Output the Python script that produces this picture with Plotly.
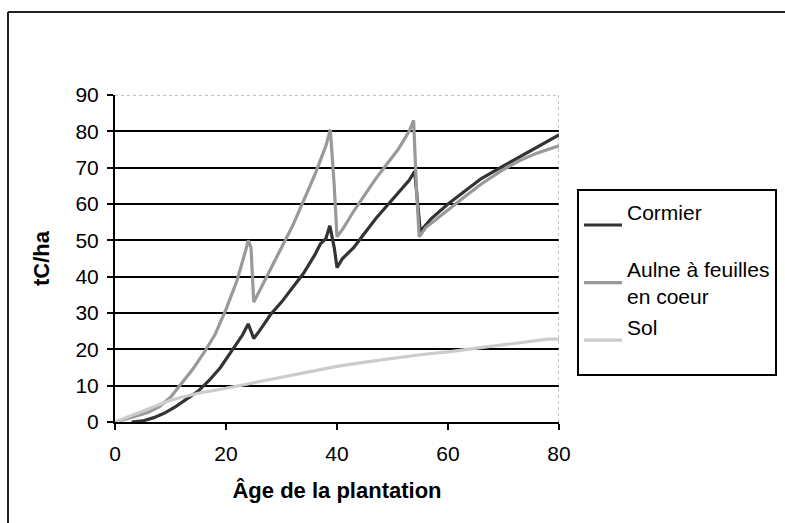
import plotly.graph_objects as go

# ---- data ----
cormier_age = [3, 5, 7, 9, 11, 13, 15, 17, 19, 21, 23, 24, 25, 26, 28, 30, 32, 34, 36, 37, 38, 38.7, 39.5, 40,
               41, 43, 45, 47, 49, 51, 53, 54, 54.5, 55, 57, 60, 63, 66, 70, 73, 76, 80]
cormier_val = [0, 0.3, 1.2, 2.5, 4.3, 6.5, 8.5, 11.5, 15, 19.5, 24, 27, 23, 25, 29.5, 33, 37, 41, 46, 49, 50.5, 54, 48, 42.5,
               45, 48, 52, 56, 59.5, 63, 66.5, 69, 60, 52.5, 56, 60, 63.5, 67, 70.5, 73, 75.5, 79]

aulne_age = [0, 2, 4, 6, 8, 10, 12, 14, 16, 18, 20, 22, 23.5, 24, 24.5, 25, 26, 28, 30, 32, 34, 36, 38, 38.8, 39.5, 40,
             41, 43, 45, 47, 49, 51, 53, 53.8, 54.3, 54.8, 56, 58, 60, 63, 66, 70, 73, 76, 80]
aulne_val = [0, 0.8, 1.7, 2.7, 4.2, 6.8, 10.5, 14.5, 19, 24, 31, 39, 47, 50, 48, 33, 36, 42, 48, 54, 61, 68, 76, 80.5, 65, 51,
             53, 58, 62.5, 67, 71, 75, 80, 83, 65, 51, 53.5, 56, 58.5, 62, 65.5, 69.5, 72, 74, 76]

sol_age = [0, 2, 4, 6, 8, 10, 12, 15, 20, 25, 30, 35, 40, 45, 50, 55, 60, 65, 70, 75, 78, 80]
sol_val = [0, 1.2, 2.4, 3.6, 5, 6, 6.8, 7.9, 9.3, 10.8, 12.3, 13.9, 15.3, 16.5, 17.6, 18.5, 19.3, 20.3, 21.2, 22.2, 22.8, 22.8]

x_ticks = [0, 20, 40, 60, 80]
y_ticks = [0, 10, 20, 30, 40, 50, 60, 70, 80, 90]

FONT = "Liberation Sans, Arial, sans-serif"

fig = go.Figure()
fig.add_trace(go.Scatter(x=cormier_age, y=cormier_val, mode="lines", name="Cormier<br> ",
                         line=dict(color="#333333", width=3.2), legendgroup="a"))
fig.add_trace(go.Scatter(x=aulne_age, y=aulne_val, mode="lines", name="Aulne à feuilles<br>en coeur",
                         line=dict(color="#999999", width=3.2), legendgroup="b"))
fig.add_trace(go.Scatter(x=sol_age, y=sol_val, mode="lines", name="Sol<br> ",
                         line=dict(color="#cccccc", width=3.2), legendgroup="c"))

fig.update_layout(
    width=785, height=523,
    margin=dict(l=115, r=226, t=95, b=101, autoexpand=False),
    paper_bgcolor="white", plot_bgcolor="white",
    font=dict(family=FONT, size=21, color="black"),
    hovermode=False,
    showlegend=True,
    legend=dict(x=1.0405, y=0.712, xanchor="left", yanchor="top",
                bordercolor="black", borderwidth=2, bgcolor="white",
                font=dict(family=FONT, size=21, color="black"),
                tracegroupgap=0, itemwidth=38),
    xaxis=dict(range=[0, 80], tickvals=x_ticks, showgrid=False, zeroline=False,
               showline=True, linecolor="black", linewidth=2,
               ticks="outside", ticklen=6, tickwidth=2, tickcolor="black",
               ticklabelstandoff=6,
               title=dict(text="<b>Âge de la plantation</b>", font=dict(size=22), standoff=18)),
    yaxis=dict(range=[0, 90], tickvals=y_ticks, showgrid=True, gridcolor="black", gridwidth=2,
               zeroline=False, showline=True, linecolor="black", linewidth=2,
               ticks="outside", ticklen=6, tickwidth=2, tickcolor="black",
               ticklabelstandoff=4,
               title=dict(text="<b>tC/ha</b>", font=dict(size=22), standoff=20)),
    shapes=[
        # plot-area top and right borders (grey dotted)
        dict(type="line", xref="x", yref="y", x0=0, x1=80, y0=90, y1=90,
             line=dict(color="white", width=3), layer="between"),
        dict(type="line", xref="x", yref="y", x0=0, x1=80, y0=90, y1=90,
             line=dict(color="#888888", width=1, dash="dot"), layer="between"),
        dict(type="line", xref="x", yref="y", x0=80, x1=80, y0=0, y1=90,
             line=dict(color="#888888", width=1, dash="dot"), layer="between"),
        # outer chart frame (top and left edges)
        dict(type="line", xref="paper", yref="paper", x0=-0.241, x1=1.6, y0=1.2538, y1=1.2538,
             line=dict(color="#222222", width=2)),
        dict(type="line", xref="paper", yref="paper", x0=-0.241, x1=-0.241, y0=1.2538, y1=-0.4,
             line=dict(color="#222222", width=2)),
    ],
)

fig.write_html(
    "out.html",
    config={"displayModeBar": False},
    post_script="document.body.style.margin='0';document.documentElement.style.overflow='hidden';",
)
